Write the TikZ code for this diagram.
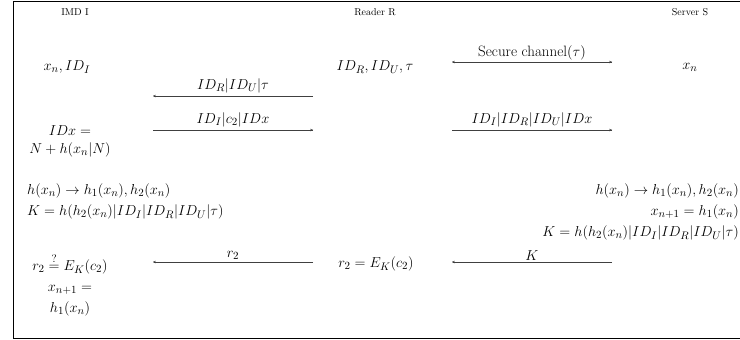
\documentclass[tikz,border=0pt]{standalone}
\usepackage{amsmath}
\usetikzlibrary{arrows.meta}
\begin{document}
\begin{tikzpicture}[x=1pt,y=-1pt,
  hdr/.style={font=\fontsize{10}{12}\selectfont, inner sep=0pt},
  txt/.style={font=\fontsize{15}{18}\selectfont, inner sep=0pt},
  lbl/.style={font=\fontsize{15}{18}\selectfont, inner sep=0pt, anchor=south},
  msg/.style={line width=0.5pt, draw=black!75, -{To[length=3pt,width=2.5pt]}},
  dmsg/.style={line width=0.5pt, draw=black!75, {To[length=3pt,width=2.5pt]}-{To[length=3pt,width=2.5pt]}}]
\useasboundingbox (0,0) rectangle (740,340);
% frame (right side runs off the picture)
\draw[line width=0.8pt] (745,1) -- (13,1) -- (13,338.5) -- (745,338.5);
% headers
\node[hdr] (hI) at (75,12) {IMD I};
\node[hdr] (hR) at (375,12) {Reader R};
\node[hdr] (hS) at (690,12) {Server S};
% row 1
\node[txt] (i1) at (67,67) {$x_n, ID_I$};
\node[txt] (r1) at (375,67) {$ID_R, ID_U, \tau$};
\node[txt] (s1) at (690,67) {$x_n$};
\coordinate (sc1) at (452,62);
\coordinate (sc2) at (612,62);
\draw[dmsg] (sc1) -- (sc2) node[lbl, midway, above=2pt] (lsc) {Secure channel$(\tau)$};
% arrow R -> I
\coordinate (a1s) at (313,96);
\coordinate (a1e) at (153,96);
\draw[msg] (a1s) -- (a1e) node[lbl, midway, above=3pt] (la1) {$ID_R|ID_U|\tau$};
% arrow I -> R
\coordinate (a2s) at (153,130);
\coordinate (a2e) at (313,130);
\draw[msg] (a2s) -- (a2e) node[lbl, midway, above=3pt] (la2) {$ID_I|c_2|IDx$};
% arrow R -> S
\coordinate (a3s) at (452,130);
\coordinate (a3e) at (612,130);
\draw[msg] (a3s) -- (a3e) node[lbl, midway, above=3pt] (la3) {$ID_I|ID_R|ID_U|IDx$};
% IDx
\node[txt] (i2) at (70,131) {$IDx=$};
\node[txt] (i3) at (70,150) {$N+h(x_n|N)$};
% left block
\node[txt, anchor=west] (l1) at (27,191) {$h(x_n)\rightarrow h_1(x_n),h_2(x_n)$};
\node[txt, anchor=west] (l2) at (27,212) {$K=h(h_2(x_n)|ID_I|ID_R|ID_U|\tau)$};
% right block
\node[txt, anchor=east] (q1) at (739,191) {$h(x_n)\rightarrow h_1(x_n),h_2(x_n)$};
\node[txt, anchor=east] (q2) at (739,212) {$x_{n+1}=h_1(x_n)$};
\node[txt, anchor=east] (q3) at (739,233) {$K=h(h_2(x_n)|ID_I|ID_R|ID_U|\tau)$};
% arrow S -> R (K)
\coordinate (a4s) at (612,262);
\coordinate (a4e) at (452,262);
\draw[msg] (a4s) -- (a4e) node[lbl, midway, above=1pt] (la4) {$K$};
% arrow R -> I (r2)
\coordinate (a5s) at (313,262);
\coordinate (a5e) at (153,262);
\draw[msg] (a5s) -- (a5e) node[lbl, midway, above=2pt] (la5) {$r_2$};
% row r2
\node[txt] (i4) at (70,264) {$r_2\overset{?}{=}E_K(c_2)$};
\node[txt] (r2) at (376,264) {$r_2=E_K(c_2)$};
\node[txt] (i5) at (70,290) {$x_{n+1}=$};
\node[txt] (i6) at (70,309) {$h_1(x_n)$};
\end{tikzpicture}
\end{document}
